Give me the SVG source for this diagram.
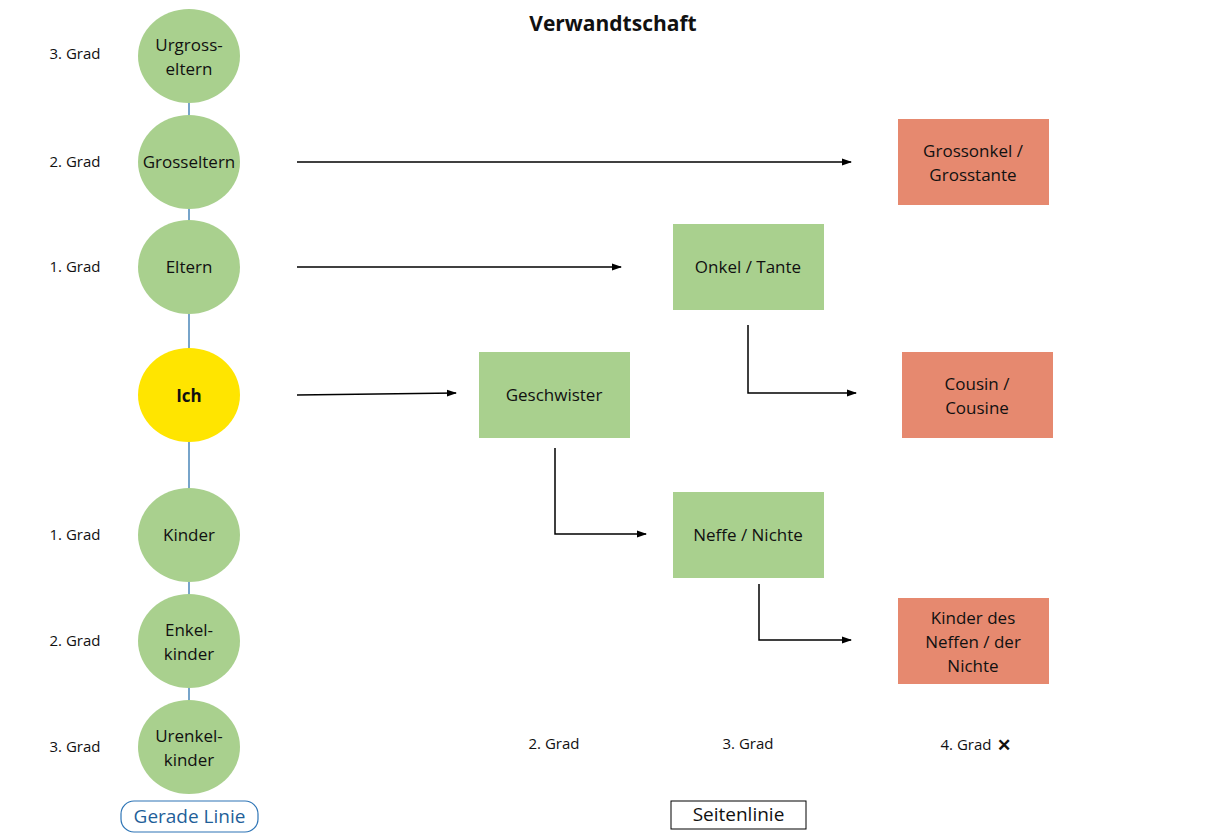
<svg xmlns="http://www.w3.org/2000/svg" width="1209" height="837" viewBox="0 0 1209 837">
<style>
text{font-family:"Open Sans","Liberation Sans",sans-serif;fill:#111;}
.c{fill:#a9d08e;}
.r{fill:#e6896f;}
.g{fill:#a9d08e;}
.t{font-size:17px;text-anchor:middle;}
.l{font-size:15px;text-anchor:middle;}
.v{stroke:#4a86b8;stroke-width:1.5;}
.a{stroke:#000;stroke-width:1.5;fill:none;marker-end:url(#ah);}
</style>
<defs>
<marker id="ah" markerWidth="10" markerHeight="8" refX="9" refY="4" orient="auto" markerUnits="userSpaceOnUse">
<path d="M0,0.5 L10,4 L0,7.5 Z" fill="#000"/>
</marker>
</defs>
<rect width="1209" height="837" fill="#fff"/>
<text x="613" y="31" font-size="21" font-weight="bold" text-anchor="middle">Verwandtschaft</text>

<g id="connectors">
<line class="v" x1="189" y1="103" x2="189" y2="115"/>
<line class="v" x1="189" y1="209" x2="189" y2="220"/>
<line class="v" x1="189" y1="314" x2="189" y2="348"/>
<line class="v" x1="189" y1="442" x2="189" y2="488"/>
<line class="v" x1="189" y1="582" x2="189" y2="594"/>
<line class="v" x1="189" y1="688" x2="189" y2="700"/>
<line class="a" x1="297" y1="162" x2="851" y2="162"/>
<line class="a" x1="297" y1="267" x2="621" y2="267"/>
<line class="a" x1="297" y1="395" x2="456" y2="393"/>
<polyline class="a" points="748,325 748,393 856,393"/>
<polyline class="a" points="555,448 555,534 646,534"/>
<polyline class="a" points="759,584 759,640 851,640"/>
</g>

<g id="lbl-left">
<text class="l" x="75" y="59">3. Grad</text>
<text class="l" x="75" y="167">2. Grad</text>
<text class="l" x="75" y="272">1. Grad</text>
<text class="l" x="75" y="540">1. Grad</text>
<text class="l" x="75" y="646">2. Grad</text>
<text class="l" x="75" y="752">3. Grad</text>
</g>

<g id="n-urgross"><ellipse class="c" cx="189" cy="56" rx="51" ry="47"/><text class="t" x="189" y="51">Urgross-</text><text class="t" x="189" y="75">eltern</text></g>
<g id="n-grosseltern"><ellipse class="c" cx="189" cy="162" rx="51" ry="47"/><text class="t" x="189" y="168">Grosseltern</text></g>
<g id="n-eltern"><ellipse class="c" cx="189" cy="267" rx="51" ry="47"/><text class="t" x="189" y="273">Eltern</text></g>
<g id="n-ich"><ellipse cx="189" cy="395" rx="51" ry="47" fill="#ffe500"/><text class="t" x="189" y="402" font-weight="bold" font-size="20">Ich</text></g>
<g id="n-kinder"><ellipse class="c" cx="189" cy="535" rx="51" ry="47"/><text class="t" x="189" y="541">Kinder</text></g>
<g id="n-enkel"><ellipse class="c" cx="189" cy="641" rx="51" ry="47"/><text class="t" x="189" y="636">Enkel-</text><text class="t" x="189" y="660">kinder</text></g>
<g id="n-urenkel"><ellipse class="c" cx="189" cy="747" rx="51" ry="47"/><text class="t" x="189" y="742">Urenkel-</text><text class="t" x="189" y="766">kinder</text></g>

<g id="n-grossonkel"><rect class="r" x="898" y="119" width="151" height="86"/><text class="t" x="973" y="157">Grossonkel /</text><text class="t" x="973" y="181">Grosstante</text></g>
<g id="n-onkel"><rect class="g" x="673" y="224" width="151" height="86"/><text class="t" x="748" y="273">Onkel / Tante</text></g>
<g id="n-geschwister"><rect class="g" x="479" y="352" width="151" height="86"/><text class="t" x="554" y="401">Geschwister</text></g>
<g id="n-cousin"><rect class="r" x="902" y="352" width="151" height="86"/><text class="t" x="977" y="390">Cousin /</text><text class="t" x="977" y="414">Cousine</text></g>
<g id="n-neffe"><rect class="g" x="673" y="492" width="151" height="86"/><text class="t" x="748" y="541">Neffe / Nichte</text></g>
<g id="n-kinderneffe"><rect class="r" x="898" y="598" width="151" height="86"/><text class="t" x="973" y="624">Kinder des</text><text class="t" x="973" y="648">Neffen / der</text><text class="t" x="973" y="672">Nichte</text></g>

<g id="lbl-bottom">
<text class="l" x="554" y="749">2. Grad</text>
<text class="l" x="748" y="749">3. Grad</text>
<text class="l" x="966" y="750">4. Grad</text>
<text x="1004" y="751" font-size="17" font-weight="bold" text-anchor="middle">✕</text>
</g>

<g id="legend-gerade"><rect x="121" y="801" width="137" height="31" rx="13" fill="#fff" stroke="#2e75b6" stroke-width="1.2"/><text x="189.5" y="823" font-size="19" text-anchor="middle" style="fill:#1f5f99">Gerade Linie</text></g>
<g id="legend-seiten"><rect x="671" y="801" width="135" height="28" fill="#fff" stroke="#000" stroke-width="1"/><text x="738.5" y="821" font-size="19" text-anchor="middle">Seitenlinie</text></g>
</svg>
